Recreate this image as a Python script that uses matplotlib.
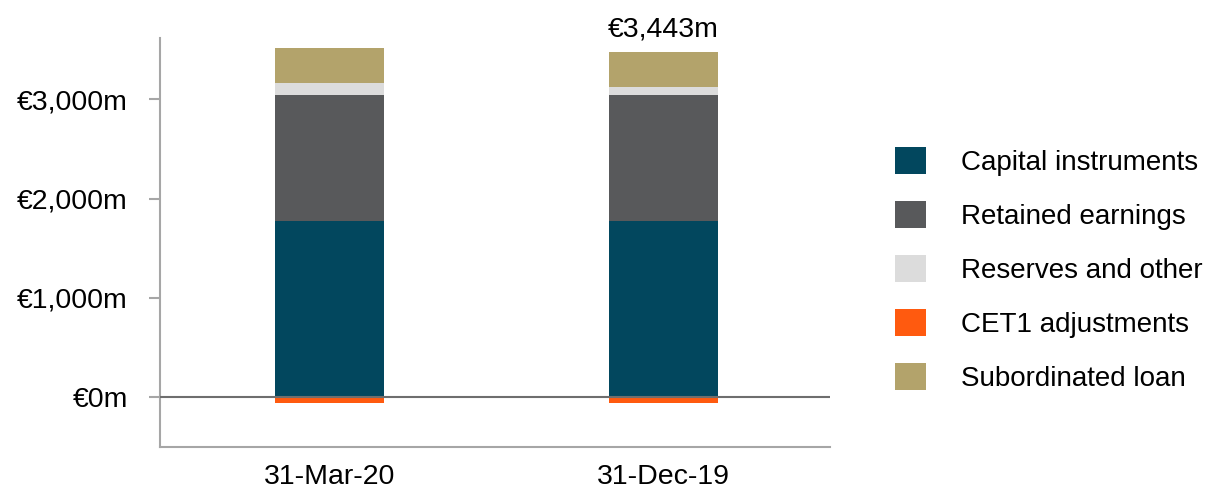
import matplotlib
matplotlib.use("Agg")
import matplotlib.pyplot as plt
import numpy as np

plt.rcParams['font.family'] = ['Liberation Sans', 'DejaVu Sans']

# data (EUR m)
dates = ["31-Mar-20", "31-Dec-19"]
capital_instruments = [1777, 1777]
retained_earnings = [1265, 1265]
reserves_other = [121, 80]
cet1_adjustments = [-57, -57]
subordinated_loan = [352, 352]
total_labels = ["", "€3,443m"]

series = [
    ("Capital instruments", capital_instruments, "#02475E"),
    ("Retained earnings", retained_earnings, "#58595B"),
    ("Reserves and other", reserves_other, "#DCDCDC"),
    ("CET1 adjustments", cet1_adjustments, "#FF5A0F"),
    ("Subordinated loan", subordinated_loan, "#B3A36B"),
]

fig = plt.figure(figsize=(12.25, 4.91), dpi=100)
ax = fig.add_axes([0.1306, 0.0896, 0.547, 0.8330])

x = np.arange(len(dates))
w = 0.326
pos_base = np.zeros(len(dates))
neg_base = np.zeros(len(dates))
handles = []
for name, vals, col in series:
    v = np.array(vals, dtype=float)
    base = np.where(v >= 0, pos_base, neg_base)
    b = ax.bar(x, v, w, bottom=base, color=col, label=name, zorder=2)
    handles.append(b)
    pos_base = pos_base + np.where(v >= 0, v, 0)
    neg_base = neg_base + np.where(v < 0, v, 0)

for i, lab in enumerate(total_labels):
    if lab:
        ax.annotate(lab, (x[i], pos_base[i]), xytext=(0, 7), textcoords="offset points",
                    ha="center", va="bottom", fontsize=20.5)

ax.axhline(0, color="#6E6E6E", lw=1.5, zorder=3)

ax.set_xlim(-0.507, 1.5)
ax.set_ylim(-500, 3615)
ax.set_yticks([0, 1000, 2000, 3000])
ax.set_yticklabels(["€0m", "€1,000m", "€2,000m", "€3,000m"])
ax.set_xticks(x)
ax.set_xticklabels(dates)
ax.tick_params(axis="y", length=8, width=1.5, color="#A6A6A6", pad=15, labelsize=20.5)
ax.tick_params(axis="x", length=0, pad=12, labelsize=20.5)
for s in ["top", "right"]:
    ax.spines[s].set_visible(False)
for s in ["left", "bottom"]:
    ax.spines[s].set_color("#A6A6A6")
    ax.spines[s].set_linewidth(1.5)

fig.legend(handles=handles, loc="center left", bbox_to_anchor=(0.7306, 0.451),
           frameon=False, fontsize=20, handlelength=1.12, handleheight=1.12,
           handletextpad=1.26, labelspacing=0.9, borderpad=0, borderaxespad=0)

fig.savefig("out.png", dpi=100)
